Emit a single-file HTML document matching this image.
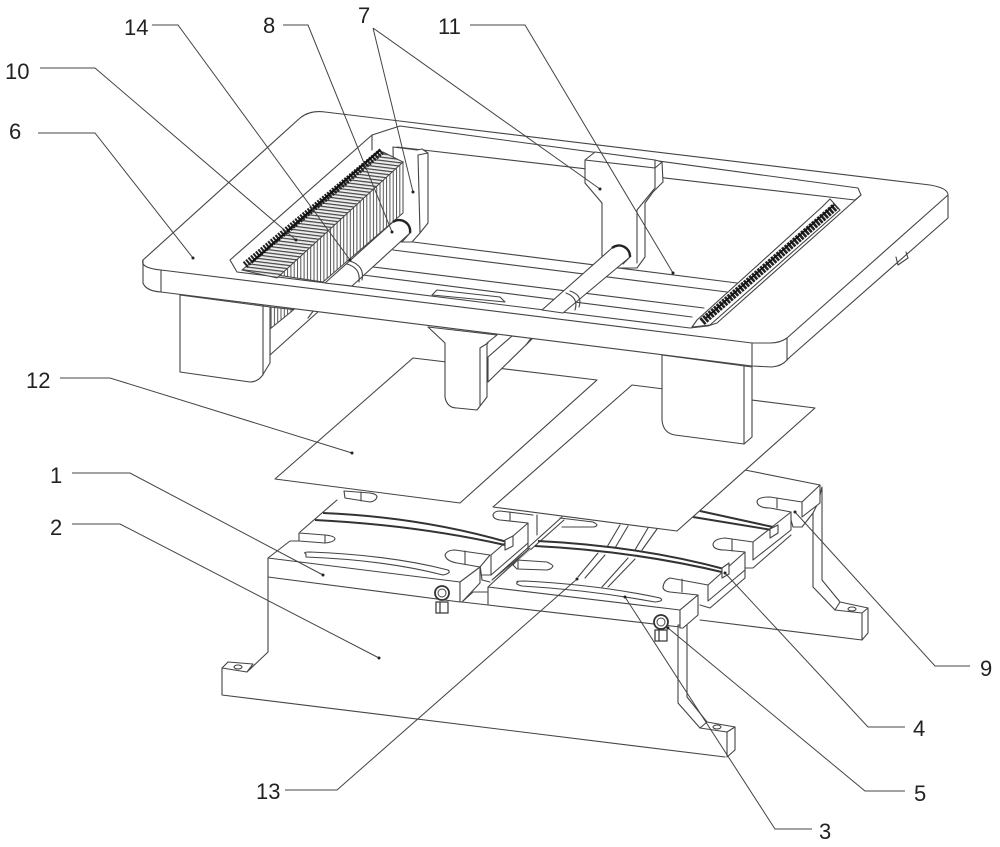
<!DOCTYPE html>
<html>
<head>
<meta charset="utf-8">
<style>
html,body{margin:0;padding:0;background:#fff}
svg{display:block}
text{font-family:"Liberation Sans",sans-serif;font-size:22px;fill:#222}
.l{fill:none;stroke:#444;stroke-width:1.1;stroke-linejoin:round;stroke-linecap:round}
.f{fill:#fff;stroke:#444;stroke-width:1.1;stroke-linejoin:round}
.w{fill:#fff;stroke:none}
.k{fill:none;stroke:#333;stroke-width:2}
.d{fill:none;stroke:#444;stroke-width:1}
</style>
</head>
<body>
<svg width="1000" height="847" viewBox="0 0 1000 847" xmlns="http://www.w3.org/2000/svg">
<defs>
<pattern id="vs" width="3.3" height="10" patternUnits="userSpaceOnUse"><rect width="3.3" height="10" fill="#fff"/><rect width="1" height="10" fill="#555"/></pattern>
<pattern id="ts" width="10" height="3.3" patternUnits="userSpaceOnUse" patternTransform="rotate(7)"><rect width="10" height="3.3" fill="#eee"/><rect width="10" height="1.2" fill="#444"/></pattern>
</defs>

<!-- base -->
<path class="l" d="M268,577V652L247,672M222,668L228,662L253,664L247,672L222,668V695L725,757"/>
<path class="l" d="M700,620L862,640"/>
<ellipse class="l" cx="238" cy="667" rx="4" ry="2"/>
<!-- back right bracket -->
<path class="f" d="M813,513V587L835,610L862,613V640L868,633V608L840,602L822,580V487L818,503Z"/>
<path class="l" d="M835,610L840,602M862,613L868,608"/>
<ellipse class="l" cx="852" cy="609" rx="4" ry="2"/>
<!-- front right bracket -->
<path class="f" d="M678,625V703L700,728L727,732V757L735,750V727L707,722L687,697V625Z"/>
<path class="l" d="M700,728L707,722M727,732L735,727"/>
<ellipse class="l" cx="717" cy="727" rx="4" ry="2"/>

<!-- back-right block -->
<path class="w" d="M700,495L745,470L820,485V503L802,517L793,527H791V535L753,568H745V552L725,538L680,531Z"/>
<path class="l" d="M745,470L820,485L802,502L770,497Q757,497 757,502Q758,508 770,508L791,512L753,542"/>
<path class="l" d="M777,498V508M802,502V517M820,485V503L802,517M791,512V530L753,560V542M791,535L753,568H745"/>
<path class="l" d="M791,520L793,527H802L813,513"/>
<path class="k" d="M700,511L773,527M693,517L772,530"/>
<path class="f" d="M770,529L778,525V533L770,538Z"/>
<!-- notch 2 -->
<path class="l" d="M753,542L725,538Q713,539 713,545Q714,550 725,550L745,552M732,539V551"/>

<!-- centre deck lines -->
<path class="l" d="M620,525L607,547M628,526L615,548M648,528L635,550M657,529L642,550"/>
<path class="l" d="M560,518L593,522Q597,524 597,525Q596,527 593,527L562,527"/>
<path class="l" d="M562,517L492,580M564,520L492,584M537,515V535"/>

<!-- back-left block -->
<path class="w" d="M300,532L337,500L528,523L490,555V575L528,543V530L480,590H470L462,560L299,541Z"/>
<path class="l" d="M337,500L300,532"/>
<path class="l" d="M528,523L500,520Q493,519 493,515Q494,511 500,511L533,515M510,512V520"/>
<path class="f" d="M528,523V543L491,575V555Z"/>
<path class="l" d="M528,543V550L492,580M482,575H491M482,580L490,582M480,565L482,580"/>
<path class="f" d="M344,491L370,493Q377,494 377,497Q376,501 370,502L345,498Z"/>
<path class="l" d="M361,492V501"/>
<path class="l" d="M299,533L325,535Q335,536 335,539Q334,542 325,543L299,541V533M325,535V543"/>
<path class="k" d="M323,513Q420,517 507,542M315,520Q415,525 505,545"/>
<path class="f" d="M505,540L513,536V546L505,550Z"/>

<!-- front right-back block -->
<path class="f" d="M745,552V570L708,601V585Z"/>
<path class="l" d="M745,570V578L710,608L700,605"/>
<path class="k" d="M538,541Q640,546 728,570M535,546Q635,551 726,573"/>
<path class="f" d="M722,568L729,563V574L722,578Z"/>

<!-- front left pad -->
<path class="w" d="M268,558L290,541L445,555L490,555L460,582V602L268,577Z"/>
<path class="l" d="M268,558L290,541H299M268,558V577L460,602V582L268,558"/>
<path class="f" d="M460,582L480,567V583L462,602H460Z"/>
<path class="f" d="M480,567L457,563Q446,561 445,555Q447,550 455,550L490,555Z"/>
<path class="l" d="M465,551V564"/>
<path class="f" d="M306,554Q302,552 310,552Q390,555 448,570Q452,573 443,575Q385,560 306,557Z"/>

<!-- front right pad -->
<path class="w" d="M488,587L530,550L663,566L698,595L680,610L488,605Z"/>
<path class="l" d="M488,587L530,548M488,587L680,610L698,595M488,587V605L680,627V610"/>
<path class="f" d="M680,610L698,595V615L683,628H680Z"/>
<path class="l" d="M598,553L578,577M605,555L585,578M628,558L602,587M635,559L608,587"/>
<path class="l" d="M517,560L547,562Q553,565 553,566Q552,569 547,570L517,569L513,565ZM518,560V569"/>
<path class="l" d="M698,595L670,592Q663,591 663,587Q664,580 670,578L708,585M682,579V592"/>
<path class="f" d="M518,582Q514,581 525,581Q600,585 660,598Q665,601 655,602Q590,590 522,586Q514,584 518,582Z"/>
<path class="l" d="M462,602L488,605M462,602L473,592H487"/>

<!-- eye bolts -->
<circle cx="442" cy="593" r="7" fill="#fff" stroke="#333" stroke-width="1.8"/>
<circle cx="442" cy="593" r="4" fill="#fff" stroke="#444" stroke-width="1"/>
<rect x="436" y="602" width="12" height="11" fill="#fff" stroke="#333" stroke-width="1.2"/>
<path class="k" d="M440,602V613" style="stroke-width:1.2"/>
<circle cx="661" cy="622" r="7" fill="#fff" stroke="#333" stroke-width="1.8"/>
<circle cx="661" cy="622" r="4" fill="#fff" stroke="#444" stroke-width="1"/>
<rect x="655" y="630" width="12" height="11" fill="#fff" stroke="#333" stroke-width="1.2"/>
<path class="k" d="M659,630V641" style="stroke-width:1.2"/>

<!-- sheets -->
<path class="f" d="M413,358L597,380L460,503L275,479Z"/>
<path class="f" d="M632,385L815,408L677,531L493,507Z"/>

<!-- under frame: rods -->
<path d="M270,307L297,310L270,330Z" fill="url(#vs)" stroke="#444" stroke-width="1"/>
<path class="f" d="M270,329L297,307L320,310L270,355Z"/>
<path class="l" d="M308,318L314,310"/>
<path class="f" d="M488,357L512,336L533,338L488,382Z"/>
<path class="l" d="M526,345L532,337"/>

<!-- legs -->
<path class="f" d="M180,295V372L250,382Q257,382 262,376L270,363V307Z"/>
<path class="l" d="M263,305V375"/>
<path class="f" d="M428,327L445,343V397Q447,408 457,408L477,410L487,397V343L497,335Z"/>
<path class="l" d="M480,348V405M480,348L488,343"/>
<path class="f" d="M662,355V420Q663,433 675,435L744,444L752,437V367Z"/>
<path class="l" d="M744,365V444"/>

<!-- plate -->
<path class="f" d="M143,260L300,118Q310,110 325,112L930,185Q948,188 948,195V218L790,357L787,360Q782,366 772,367L752,366L161,292Q146,291 143,283Z"/>
<path class="l" d="M143,260Q140,268 161,270L752,343H770Q780,343 787,338L948,195"/>
<path class="l" d="M161,270V292M752,343V366M787,338V360"/>
<path class="l" d="M896,257L898,265L908,258L906,252"/>
<path class="l" d="M237,272L230,260L372,135L400,126L858,188L861,195L717,323L708,326L690,328Z"/>
<path class="l" d="M397,147L855,200M861,195L855,200"/>
<path class="l" d="M372,135V150"/>

<!-- rails -->
<path class="l" d="M413,242L737,283M393,250L727,292M373,267L704,308M363,275L692,317"/>
<path class="f" d="M437,290L500,297L505,302L432,295Z"/>

<!-- left bracket -->
<path class="f" d="M393,147L417,150L422,149L428,153V223L420,233L412,242H395Z"/>
<path class="l" d="M418,155L420,233M418,155L428,153"/>

<!-- left rack -->
<path d="M277,275L403,162V213L323,282Z" fill="url(#vs)" stroke="#444" stroke-width="1"/>
<path d="M242,270L383,152L403,162L277,278Z" fill="url(#ts)" stroke="#444" stroke-width="1"/>
<path d="M245,265L382,151" fill="none" stroke="#222" stroke-width="7" stroke-dasharray="2 1.2"/>
<path d="M252,262L380,150" fill="none" stroke="#111" stroke-width="2.2"/>

<!-- right bracket -->
<path class="f" d="M585,160L595,152L655,160L662,162L663,182L653,192L645,203V257L637,268H602V203L585,183Z"/>
<path class="l" d="M585,160L655,168V188L637,210V263M655,160V168M655,168L662,162"/>

<!-- right rack -->
<path class="f" d="M692,327L710,325L840,210L830,199L822,207L697,320Z"/>
<path d="M702,322L836,206" fill="none" stroke="#222" stroke-width="8" stroke-dasharray="2.6 1"/>
<path d="M706,318L834,205" fill="none" stroke="#111" stroke-width="1.6"/>

<!-- rods -->
<path class="f" d="M325,283L393,222A11,11 0 0 1 410,233L352,286Z"/>
<path d="M393,222A11,11 0 0 1 410,233" fill="none" stroke="#222" stroke-width="2.4"/>
<path class="l" d="M347,264Q361,268 359,282M350,261Q365,266 362,280"/>
<path class="l" d="M410,233L402,242"/>
<path class="f" d="M542,310L612,248A11,11 0 0 1 630,257L563,313Z"/>
<path d="M612,248A11,11 0 0 1 630,257" fill="none" stroke="#222" stroke-width="2.4"/>
<path class="l" d="M566,293Q579,298 575,310M570,291Q583,295 579,307"/>
<path class="l" d="M630,257L623,264"/>

<!-- leaders -->
<g class="d">
<path d="M152,25H178L350,260"/>
<path d="M283,25H308L392,232"/>
<path d="M373,28L413,192M373,28L600,189"/>
<path d="M470,25H525L673,273"/>
<path d="M40,68H95L296,240"/>
<path d="M38,133H95L193,258"/>
<path d="M60,378H110L352,453"/>
<path d="M72,473H130L323,575"/>
<path d="M72,524H120L379,658"/>
<path d="M285,790H337L577,579"/>
<path d="M812,829H775L625,597"/>
<path d="M905,791H865L668,628"/>
<path d="M905,727H868L725,573"/>
<path d="M970,666H935L795,512"/>
</g>
<g fill="#222">
<circle cx="350" cy="260" r="1.5"/><circle cx="392" cy="232" r="1.5"/><circle cx="413" cy="192" r="1.5"/><circle cx="600" cy="189" r="1.5"/><circle cx="673" cy="273" r="1.5"/><circle cx="296" cy="240" r="1.5"/><circle cx="193" cy="258" r="1.5"/><circle cx="352" cy="453" r="1.5"/><circle cx="323" cy="575" r="1.5"/><circle cx="379" cy="658" r="1.5"/><circle cx="577" cy="579" r="1.5"/><circle cx="625" cy="597" r="1.5"/><circle cx="668" cy="628" r="1.5"/><circle cx="725" cy="573" r="1.5"/><circle cx="795" cy="512" r="1.5"/>
</g>

<text x="124" y="35">14</text>
<text x="263" y="33">8</text>
<text x="358" y="23">7</text>
<text x="438" y="34">11</text>
<text x="5" y="79">10</text>
<text x="9" y="139">6</text>
<text x="26" y="388">12</text>
<text x="50" y="483">1</text>
<text x="50" y="535">2</text>
<text x="256" y="799">13</text>
<text x="819" y="839">3</text>
<text x="914" y="801">5</text>
<text x="913" y="736">4</text>
<text x="980" y="676">9</text>
</svg>
</body>
</html>
